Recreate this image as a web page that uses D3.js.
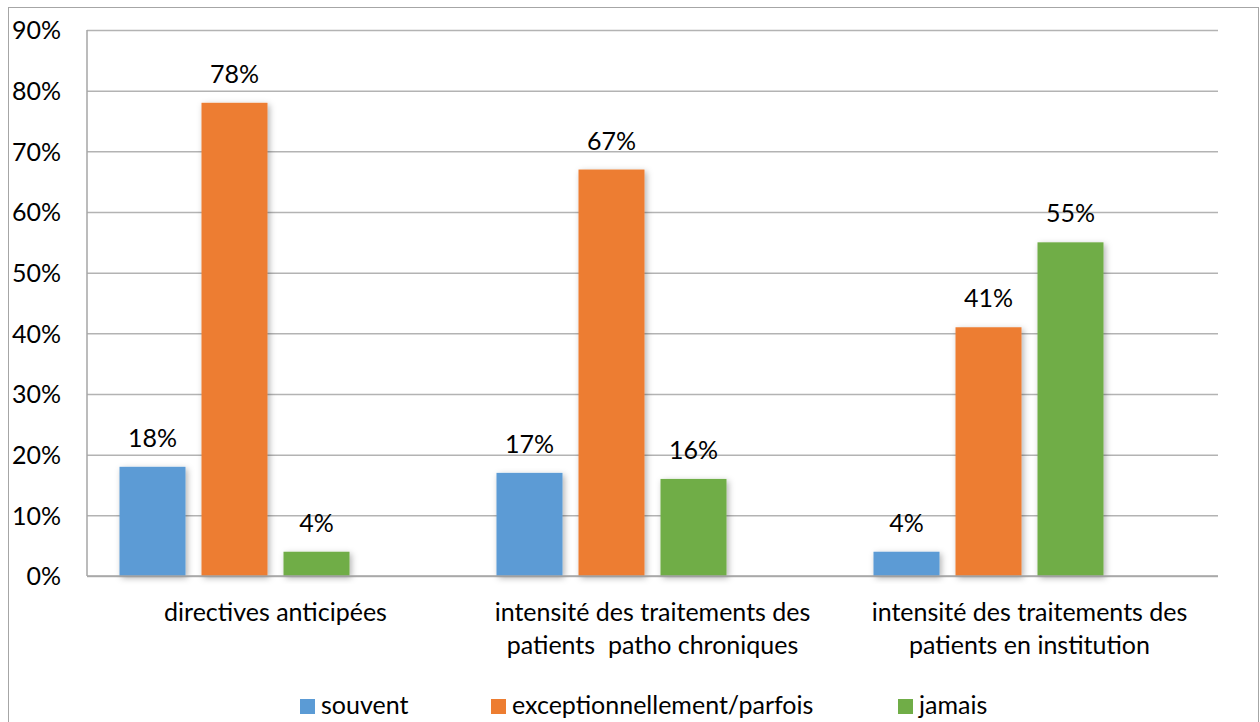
<!DOCTYPE html>
<html>
<head>
<meta charset="utf-8">
<script src="https://cdn.jsdelivr.net/npm/d3@7"></script>
<style>
  body { margin: 0; background: #fff; }
  svg text { font-family: Lato, "Open Sans", sans-serif; fill: #000; }
</style>
</head>
<body>
<div id="chart"></div>
<script>
const categories = [
    ['directives anticipées'],
    ['intensité des traitements des', 'patients  patho chroniques'],
    ['intensité des traitements des', 'patients en institution']
];
const seriesNames = ['souvent', 'exceptionnellement/parfois', 'jamais'];
const seriesColors = ['#5B9BD5', '#ED7D31', '#70AD47'];
const souvent = [18, 17, 4];
const parfois = [78, 67, 41];
const jamais = [4, 16, 55];
const yTicks = [0, 10, 20, 30, 40, 50, 60, 70, 80, 90];

const series = [souvent, parfois, jamais];

const W = 1260, H = 722;
const margin = { top: 30, right: 42, bottom: 146, left: 87 };
const width = W - margin.left - margin.right;
const height = H - margin.top - margin.bottom;
const FS = '25px';

let svg = d3.select('#chart').append('svg')
    .attr('width', W).attr('height', H);

// ombre des barres
let defs = svg.append('defs');
let f = defs.append('filter').attr('id', 'shadow')
    .attr('x', '-20%').attr('y', '-20%').attr('width', '150%').attr('height', '150%');
f.append('feDropShadow').attr('dx', 2).attr('dy', 2).attr('stdDeviation', 3)
    .attr('flood-color', '#000').attr('flood-opacity', 0.3);

// cadre du graphique
svg.append('rect').attr('x', 8.5).attr('y', 7.5).attr('width', 1250).attr('height', 720)
    .attr('fill', 'none').attr('stroke', '#a6a6a6').attr('stroke-width', 1);

let g = svg.append('g').attr('transform', 'translate(' + margin.left + ',' + margin.top + ')');

const yScale = d3.scaleLinear().domain([0, 90]).range([height, 0]);
const x0 = d3.scaleBand().domain(d3.range(categories.length)).range([0, width]);
// 4 emplacements par groupe (le 4e est vide, comme dans Excel)
const step = x0.bandwidth();
const x1 = d3.scaleBand().domain(d3.range(4)).range([step * 0.0862, step * 0.9138]).paddingInner(16 / 82);

// grille
let yAxis = d3.axisLeft(yScale).tickValues(yTicks).tickSize(-width).tickFormat(d => d + '%');
let ya = g.append('g').call(yAxis);
ya.select('.domain').remove();
ya.selectAll('.tick line').attr('stroke', '#b3b3b3').attr('stroke-width', 1.5);
ya.selectAll('.tick text').attr('x', -26).attr('dy', '0.35em').style('font-size', FS);

// axe vertical
g.append('line').attr('x1', 0).attr('x2', 0).attr('y1', 0).attr('y2', height)
    .attr('stroke', '#a6a6a6').attr('stroke-width', 1.5);

// barres
series.forEach(function (vals, s) {
    let grp = g.append('g');
    grp.selectAll('rect').data(vals).enter().append('rect')
        .attr('x', (d, i) => x0(i) + x1(s))
        .attr('width', x1.bandwidth())
        .attr('y', d => yScale(d))
        .attr('height', d => height - yScale(d))
        .attr('fill', seriesColors[s])
        .attr('filter', 'url(#shadow)');
    grp.selectAll('text').data(vals).enter().append('text')
        .attr('x', (d, i) => x0(i) + x1(s) + x1.bandwidth() / 2)
        .attr('y', d => yScale(d) - 20)
        .attr('text-anchor', 'middle')
        .style('font-size', FS)
        .text(d => d + '%');
});

// ligne de base
g.append('line').attr('x1', 0).attr('x2', width).attr('y1', height).attr('y2', height)
    .attr('stroke', '#a6a6a6').attr('stroke-width', 1.5);

// étiquettes des catégories
categories.forEach(function (lines, i) {
    let t = g.append('text')
        .attr('x', x0(i) + step / 2)
        .attr('y', height + 45)
        .attr('text-anchor', 'middle')
        .style('font-size', FS)
        .style('white-space', 'pre');
    lines.forEach(function (l, j) {
        t.append('tspan').attr('x', x0(i) + step / 2).attr('dy', j === 0 ? 0 : 33).text(l);
    });
});

// légende
const legendX = [300, 491, 898];
let leg = svg.append('g');
seriesNames.forEach(function (name, s) {
    leg.append('rect').attr('x', legendX[s]).attr('y', 699).attr('width', 15).attr('height', 15)
        .attr('fill', seriesColors[s]);
    leg.append('text').attr('x', legendX[s] + 21).attr('y', 714)
        .style('font-size', FS).text(name);
});
</script>
</body>
</html>
